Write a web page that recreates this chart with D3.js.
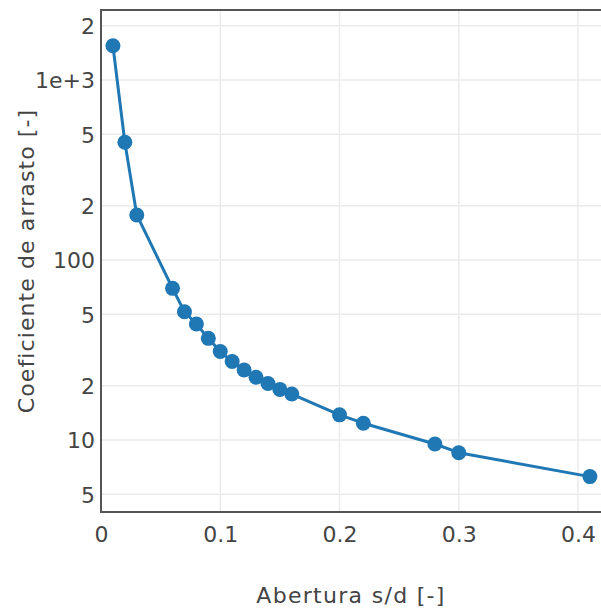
<!DOCTYPE html>
<html>
<head>
<meta charset="utf-8">
<script src="https://cdn.jsdelivr.net/npm/d3@7"></script>
<style>
  html, body { margin: 0; padding: 0; background: #fff; }
  svg { display: block; }
  text { font-family: "DejaVu Sans", Verdana, sans-serif; fill: #444; }
</style>
</head>
<body>
<div id="chart"></div>
<script>
// Opening ratio s/d and the matching drag coefficient
const abertura = [0.01, 0.02, 0.03, 0.06, 0.07, 0.08, 0.09, 0.10, 0.11, 0.12, 0.13, 0.14, 0.15, 0.16, 0.20, 0.22, 0.28, 0.30, 0.41];
const coeficiente = [1550, 451, 178, 69.6, 51.6, 44.1, 36.7, 31.0, 27.3, 24.5, 22.3, 20.6, 19.1, 18.0, 13.8, 12.4, 9.5, 8.5, 6.26];

// Axis ticks and their labels
const xTicks = [0, 0.1, 0.2, 0.3, 0.4];
const xTickLabels = ["0", "0.1", "0.2", "0.3", "0.4"];
const yTicks = [5, 10, 20, 50, 100, 200, 500, 1000, 2000];
const yTickLabels = ["5", "10", "2", "5", "100", "2", "5", "1e+3", "2"];

const xDomain = [0, 0.4193];
const yDomain = [Math.pow(10, 0.6), Math.pow(10, 3.389)];

const W = 601, H = 614;
const m = { left: 101, right: 0, top: 10, bottom: 102 };

const svg = d3.select("#chart").append("svg")
  .attr("width", W).attr("height", H);

const x = d3.scaleLinear().domain(xDomain).range([m.left, W - m.right]);
const y = d3.scaleLog().domain(yDomain).range([H - m.bottom, m.top]);

// Grid
const grid = svg.append("g");
grid.selectAll("line.gx").data(xTicks.slice(1)).join("line")
  .attr("x1", d => x(d)).attr("x2", d => x(d))
  .attr("y1", m.top).attr("y2", H - m.bottom)
  .attr("stroke", "#ebebeb").attr("stroke-width", 1.5);
grid.selectAll("line.gy").data(yTicks).join("line")
  .attr("x1", m.left).attr("x2", W - m.right)
  .attr("y1", d => y(d)).attr("y2", d => y(d))
  .attr("stroke", "#ebebeb").attr("stroke-width", 1.5);

// Axes (labels only, lines drawn below)
const xAxis = d3.axisBottom(x).tickValues(xTicks)
  .tickFormat((d, i) => xTickLabels[i]).tickSize(0).tickPadding(0);
const gx = svg.append("g").attr("transform", `translate(0,${H - m.bottom})`).call(xAxis);
gx.select(".domain").remove();
gx.selectAll("text")
  .attr("y", 30).attr("dy", null)
  .style("font-size", "22px").style("font-family", "DejaVu Sans, Verdana, sans-serif")
  .attr("fill", "#444");

const yAxis = d3.axisLeft(y).tickValues(yTicks)
  .tickFormat((d, i) => yTickLabels[i]).tickSize(0).tickPadding(6);
const gy = svg.append("g").attr("transform", `translate(${m.left},0)`).call(yAxis);
gy.select(".domain").remove();
gy.selectAll("text")
  .attr("dy", "0.36em")
  .style("font-size", "22px").style("font-family", "DejaVu Sans, Verdana, sans-serif")
  .attr("fill", "#444");

// Frame lines: left, bottom and top
const frame = svg.append("g").attr("stroke", "#555").attr("stroke-width", 2).attr("fill", "none");
frame.append("line").attr("x1", m.left).attr("x2", m.left).attr("y1", m.top - 1).attr("y2", H - m.bottom + 1);
frame.append("line").attr("x1", m.left - 1).attr("x2", W).attr("y1", H - m.bottom).attr("y2", H - m.bottom);
frame.append("line").attr("x1", m.left - 1).attr("x2", W).attr("y1", m.top).attr("y2", m.top);

// Series
const pts = abertura.map((d, i) => [d, coeficiente[i]]);
const line = d3.line().x(d => x(d[0])).y(d => y(d[1]));
svg.append("path").datum(pts)
  .attr("d", line).attr("fill", "none")
  .attr("stroke", "#1f77b4").attr("stroke-width", 3)
  .attr("stroke-linejoin", "round");
svg.append("g").selectAll("circle").data(pts).join("circle")
  .attr("cx", d => x(d[0])).attr("cy", d => y(d[1]))
  .attr("r", 7.5).attr("fill", "#1f77b4");

// Axis titles
svg.append("text")
  .attr("x", (m.left + W - m.right) / 2).attr("y", 603)
  .attr("text-anchor", "middle")
  .style("font-size", "22px").style("letter-spacing", "1.3px")
  .text("Abertura s/d [-]");
svg.append("text")
  .attr("transform", `translate(34,${(m.top + H - m.bottom) / 2}) rotate(-90)`)
  .attr("text-anchor", "middle")
  .style("font-size", "22px").style("letter-spacing", "1.1px")
  .text("Coeficiente de arrasto [-]");
</script>
</body>
</html>
